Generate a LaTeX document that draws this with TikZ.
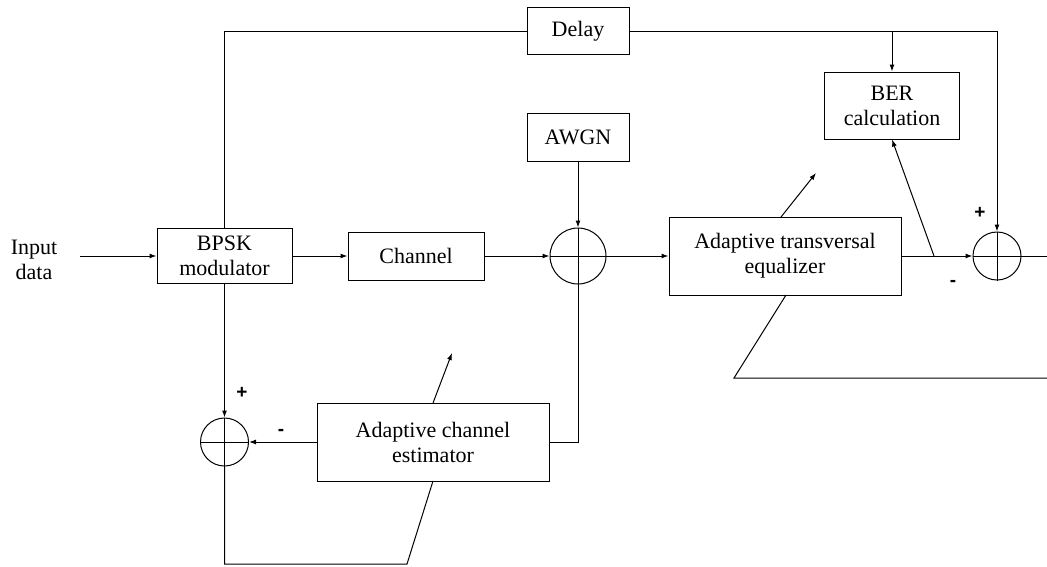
\documentclass[tikz,border=0pt]{standalone}
\usepackage{fontspec}
\setmainfont{Liberation Serif}
\newfontfamily\signfont{Liberation Sans}
\usetikzlibrary{arrows.meta}
\begin{document}
\begin{tikzpicture}[x=1pt,y=-1pt,
  line width=1pt,
  every node/.style={font=\fontsize{22}{25}\selectfont},
  blk/.style={draw,rectangle,inner sep=0pt,align=center},
  summer/.style={draw,circle,inner sep=0pt},
  arr/.style={-{Latex[length=7pt,width=5pt]}},
  sign/.style={font=\signfont\bfseries\fontsize{19}{19}\selectfont,inner sep=0pt}]
\useasboundingbox (0,0) rectangle (1047,566);
% blocks
\node[align=center] (in) at (34,260) {Input\\data};
\node[blk,minimum width=135pt,minimum height=55pt] (bpsk) at (224.5,256) {BPSK\\modulator};
\node[blk,minimum width=136pt,minimum height=48pt] (chan) at (416,256) {Channel};
\node[summer,minimum size=56pt] (sum1) at (578,256) {};
\node[blk,minimum width=102pt,minimum height=48pt] (awgn) at (578,137) {AWGN};
\node[blk,minimum width=102pt,minimum height=47pt] (delay) at (578,31) {Delay};
\node[blk,minimum width=232pt,minimum height=78pt] (eq) at (785,256) {Adaptive transversal\\equalizer};
\node[blk,minimum width=135pt,minimum height=67pt] (ber) at (892,105.5) {BER\\calculation};
\node[summer,minimum size=48pt] (sum2) at (997,256) {};
\node[summer,minimum size=48pt] (sum3) at (224.5,442) {};
\node[blk,minimum width=232pt,minimum height=78pt] (est) at (433,442) {Adaptive channel\\estimator};
% crosses in summers
\foreach \s in {sum1,sum2,sum3}{
  \draw (\s.north) -- (\s.south) (\s.west) -- (\s.east);
}
% coordinates
\coordinate (inS) at (80,256);
\coordinate (tap) at (934,256);
\coordinate (outE) at (1047,256);
\coordinate (eqA) at (781,217);
\coordinate (eqT) at (816,173);
\coordinate (eqB) at (786,295);
\coordinate (eqC) at (734,378);
\coordinate (eqD) at (1047,378);
\coordinate (estA) at (433,403);
\coordinate (estT) at (452,353);
\coordinate (estB) at (433,481);
\coordinate (fbC) at (407,564);
\coordinate (fbL) at (224.5,564);
% main path
\draw[arr] (inS) -- (bpsk.west);
\draw[arr] (bpsk.east) -- (chan.west);
\draw[arr] (chan.east) -- (sum1.west);
\draw[arr] (awgn.south) -- (sum1.north);
\draw[arr] (sum1.east) -- (eq.west);
\draw[arr] (eq.east) -- (sum2.west);
\draw (sum2.east) -- (outE);
% delay loop
\draw (bpsk.north) |- (delay.west);
\draw[arr] (delay.east) -| (sum2.north);
\draw[arr] (delay.east -| ber.north) -- (ber.north);
\draw[arr] (tap) -- (ber.south);
% equalizer adaptation
\draw[arr] (eqA) -- (eqT);
\draw (eqB) -- (eqC) -- (eqD);
% lower loop
\draw (sum1.south) |- (est.east);
\draw[arr] (est.west) -- (sum3.east);
\draw[arr] (bpsk.south) -- (sum3.north);
\draw (sum3.south) -- (fbL) -- (fbC) -- (estB);
\draw[arr] (estA) -- (estT);
% signs
\node[sign] (p2) at (980,213) {+};
\node[sign] (m2) at (953,283) {-};
\node[sign] (p3) at (242,393) {+};
\node[sign] (m3) at (281,432) {-};
\end{tikzpicture}
\end{document}
